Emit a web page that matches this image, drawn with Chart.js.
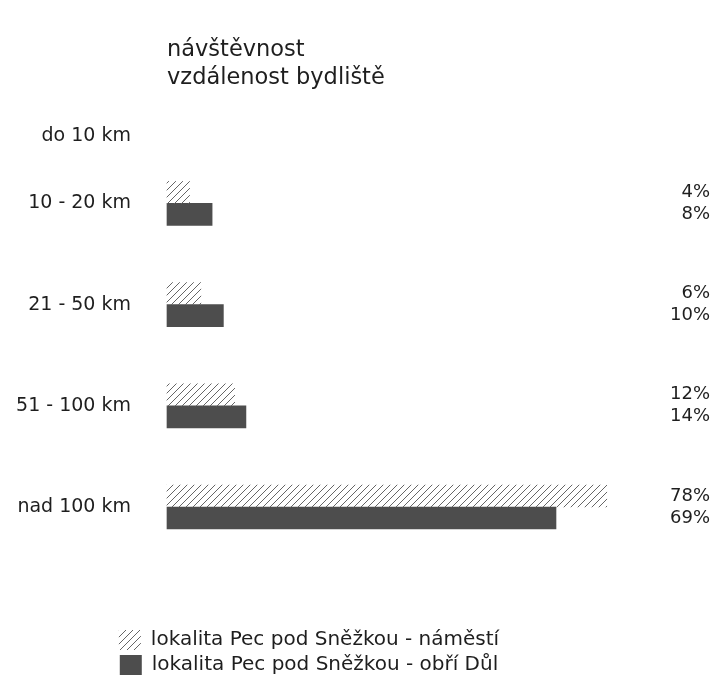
<!DOCTYPE html>
<html>
<head>
<meta charset="utf-8">
<script src="https://cdn.jsdelivr.net/npm/chart.js@4/dist/chart.umd.min.js"></script>
<style>
  html, body { margin: 0; padding: 0; background: #ffffff; }
  #wrap { width: 725px; height: 690px; position: relative; }
</style>
</head>
<body>
<div id="wrap"><canvas id="c"></canvas></div>
<script>
// ---- data ----
const categories = ['do 10 km', '10 - 20 km', '21 - 50 km', '51 - 100 km', 'nad 100 km'];
const seriesNames = ['lokalita Pec pod Sněžkou - náměstí', 'lokalita Pec pod Sněžkou - obří Důl'];
const namesti = [null, 4, 6, 12, 78];
const obriDul = [null, 8, 10, 14, 69];
const titleLines = ['návštěvnost', 'vzdálenost bydliště'];

// ---- styles ----
const textColor = '#1e1e1e';
const solidColor = '#4d4d4d';

function makeHatch() {
  const s = 7;
  const c = document.createElement('canvas');
  c.width = s; c.height = s;
  const g = c.getContext('2d');
  g.strokeStyle = '#666666';
  g.lineWidth = 1;
  g.beginPath();
  g.moveTo(0, s); g.lineTo(s, 0);
  g.moveTo(-1, 1); g.lineTo(1, -1);
  g.moveTo(s - 1, s + 1); g.lineTo(s + 1, s - 1);
  g.stroke();
  return g.createPattern(c, 'repeat');
}
const hatch = makeHatch();

Chart.defaults.font.family = '"DejaVu Sans", sans-serif';
Chart.defaults.color = textColor;

const percentLabels = {
  id: 'percentLabels',
  afterDatasetsDraw(chart) {
    const ctx = chart.ctx;
    ctx.save();
    ctx.font = '18px "DejaVu Sans", sans-serif';
    ctx.fillStyle = textColor;
    ctx.textAlign = 'right';
    ctx.textBaseline = 'middle';
    chart.data.datasets.forEach((ds, di) => {
      const meta = chart.getDatasetMeta(di);
      meta.data.forEach((el, i) => {
        const v = ds.data[i];
        if (v === null || v === undefined) return;
        ctx.fillText(v + '%', chart.width - 15, el.y);
      });
    });
    ctx.restore();
  }
};

new Chart(document.getElementById('c'), {
  type: 'bar',
  data: {
    labels: categories,
    datasets: [
      { label: seriesNames[0], data: namesti, backgroundColor: hatch, borderWidth: 0, barThickness: 22, clip: false },
      { label: seriesNames[1], data: obriDul, backgroundColor: solidColor, borderWidth: 0, barThickness: 22, clip: false }
    ]
  },
  options: {
    indexAxis: 'y',
    responsive: true,
    maintainAspectRatio: false,
    animation: false,
    layout: { padding: { left: 0, right: 107, top: 0, bottom: 5 } },
    scales: {
      x: {
        min: 0, max: 80,
        grid: { display: false, drawTicks: false },
        border: { display: false },
        ticks: { display: false },
        afterFit(scale) { scale.height = 118; }
      },
      y: {
        type: 'category',
        offset: false,
        grid: { display: false, drawTicks: false },
        border: { display: false },
        ticks: {
          padding: 36,
          font: { size: 19 },
          color: textColor,
          autoSkip: false,
          callback(value, index) {
            const l = this.getLabelForValue(value);
            return index === 0 ? ['', '', '', l] : l;
          }
        },
        afterFit(scale) { scale.width = 167; }
      }
    },
    plugins: {
      title: {
        display: true,
        text: titleLines,
        align: 'start',
        fullSize: false,
        color: textColor,
        font: { size: 22.5, weight: 'normal', lineHeight: 1.25 },
        padding: { top: 36, bottom: 10 }
      },
      legend: {
        display: true,
        position: 'bottom',
        align: 'center',
        labels: {
          boxWidth: 22,
          boxHeight: 20,
          padding: 5,
          color: textColor,
          font: { size: 20 }
        }
      },
      tooltip: { enabled: false }
    }
  },
  plugins: [percentLabels]
});
</script>
</body>
</html>
